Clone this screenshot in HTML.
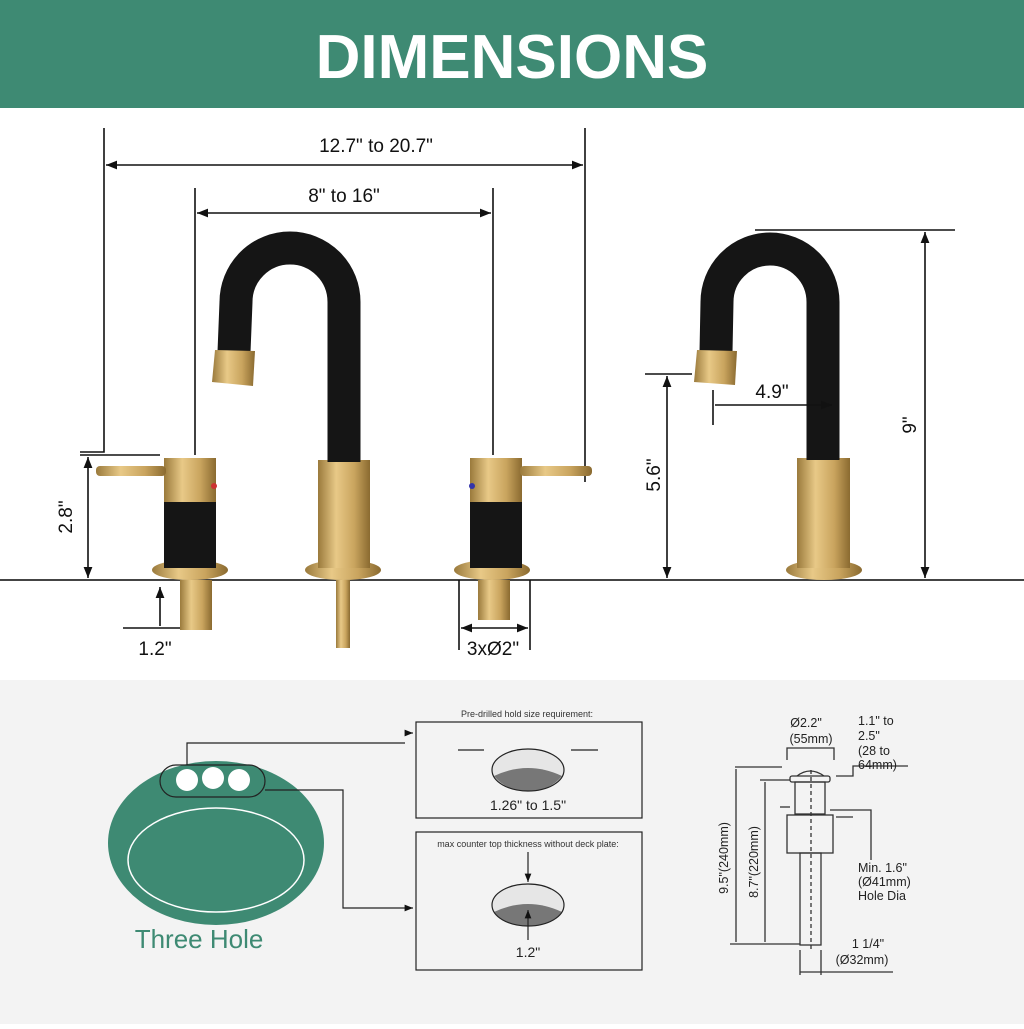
<!DOCTYPE html>
<html><head><meta charset="utf-8"><style>
body{margin:0;width:1024px;height:1024px;overflow:hidden;background:#fff;font-family:"Liberation Sans",sans-serif}
</style></head><body>
<svg width="1024" height="1024" viewBox="0 0 1024 1024" xmlns="http://www.w3.org/2000/svg" font-family="Liberation Sans, sans-serif">
<defs>
<linearGradient id="g" x1="0" x2="1"><stop offset="0" stop-color="#9a7a3c"/><stop offset=".35" stop-color="#e8c987"/><stop offset=".7" stop-color="#c9a45e"/><stop offset="1" stop-color="#8a6a30"/></linearGradient>
<marker id="a" viewBox="0 0 10 10" refX="10" refY="5" markerWidth="7" markerHeight="7" orient="auto-start-reverse"><path d="M0,1L10,5L0,9z" fill="#111"/></marker>
</defs>
<rect width="1024" height="108" fill="#3e8a73"/>
<text x="512" y="78" text-anchor="middle" font-size="62" font-weight="bold" fill="#fff">DIMENSIONS</text>
<rect y="680" width="1024" height="344" fill="#f3f3f3"/>
<line x1="0" y1="580" x2="1024" y2="580" stroke="#444" stroke-width="2"/>
<g stroke="#111" stroke-width="1.6" fill="none">
<polyline points="104,128 104,452 80,452"/>
<line x1="585" y1="128" x2="585" y2="482"/>
<line x1="106" y1="165" x2="583" y2="165" marker-start="url(#a)" marker-end="url(#a)"/>
<line x1="195" y1="188" x2="195" y2="455"/>
<line x1="493" y1="188" x2="493" y2="455"/>
<line x1="197" y1="213" x2="491" y2="213" marker-start="url(#a)" marker-end="url(#a)"/>
<line x1="80" y1="455" x2="160" y2="455"/>
<line x1="88" y1="457" x2="88" y2="578" marker-start="url(#a)" marker-end="url(#a)"/>
<line x1="160" y1="587" x2="160" y2="626" marker-start="url(#a)"/>
<line x1="123" y1="628" x2="190" y2="628"/>
<line x1="459" y1="580" x2="459" y2="650"/><line x1="530" y1="580" x2="530" y2="650"/>
<line x1="461" y1="628" x2="528" y2="628" marker-start="url(#a)" marker-end="url(#a)"/>
<line x1="755" y1="230" x2="955" y2="230"/>
<line x1="925" y1="232" x2="925" y2="578" marker-start="url(#a)" marker-end="url(#a)"/>
<line x1="645" y1="374" x2="692" y2="374"/>
<line x1="667" y1="376" x2="667" y2="578" marker-start="url(#a)" marker-end="url(#a)"/>
<line x1="713" y1="390" x2="713" y2="425"/>
</g>
<g font-size="19" fill="#111">
<text x="376" y="152" text-anchor="middle">12.7" to 20.7"</text>
<text x="344" y="202" text-anchor="middle">8" to 16"</text>
<text x="155" y="655" text-anchor="middle">1.2"</text>
<text x="493" y="655" text-anchor="middle">3xØ2"</text>
<text x="772" y="398" text-anchor="middle">4.9"</text>
<text transform="translate(72,517) rotate(-90)" text-anchor="middle">2.8"</text>
<text transform="translate(660,475) rotate(-90)" text-anchor="middle">5.6"</text>
<text transform="translate(916,425) rotate(-90)" text-anchor="middle">9"</text>
</g>
<!-- left handle -->
<rect x="180" y="580" width="32" height="50" fill="url(#g)"/>
<ellipse cx="190" cy="570" rx="38" ry="10" fill="url(#g)"/>
<rect x="164" y="500" width="52" height="68" fill="#151515"/>
<rect x="164" y="458" width="52" height="44" fill="url(#g)"/>
<rect x="96" y="466" width="70" height="10" rx="4" fill="url(#g)"/>
<circle cx="214" cy="486" r="3" fill="#c33"/>
<!-- right handle -->
<rect x="478" y="580" width="32" height="40" fill="url(#g)"/>
<ellipse cx="492" cy="570" rx="38" ry="10" fill="url(#g)"/>
<rect x="470" y="500" width="52" height="68" fill="#151515"/>
<rect x="470" y="458" width="52" height="44" fill="url(#g)"/>
<rect x="520" y="466" width="72" height="10" rx="4" fill="url(#g)"/>
<circle cx="472" cy="486" r="3" fill="#33a"/>
<!-- main spout -->
<rect x="336" y="580" width="14" height="68" fill="url(#g)"/>
<ellipse cx="343" cy="570" rx="38" ry="10" fill="url(#g)"/>
<rect x="318" y="460" width="52" height="108" fill="url(#g)"/>
<path d="M344,462 L344,302 A54,54 0 0 0 236,302 L234,352" stroke="#151515" stroke-width="33" fill="none"/>
<path d="M215,350 L255,351 L253,386 L212,382z" fill="url(#g)"/>
<!-- right faucet -->
<ellipse cx="824" cy="570" rx="38" ry="10" fill="url(#g)"/>
<rect x="797" y="458" width="53" height="110" fill="url(#g)"/>
<path d="M823,460 L823,302 A53,53 0 0 0 717,302 L716,352" stroke="#151515" stroke-width="33" fill="none"/>
<path d="M697,350 L737,351 L735,385 L694,382z" fill="url(#g)"/>
<line x1="715" y1="405" x2="832" y2="405" stroke="#111" stroke-width="1.6" marker-end="url(#a)"/>
<!-- bottom left sink -->
<ellipse cx="216" cy="843" rx="108" ry="82" fill="#3e8a73"/>
<ellipse cx="216" cy="860" rx="88" ry="52" fill="none" stroke="#fff" stroke-width="1.5"/>
<circle cx="187" cy="780" r="11" fill="#fff"/><circle cx="213" cy="778" r="11" fill="#fff"/><circle cx="239" cy="780" r="11" fill="#fff"/>
<rect x="160" y="765" width="105" height="32" rx="16" fill="none" stroke="#222" stroke-width="1.2"/>
<g stroke="#222" stroke-width="1.2" fill="none">
<polyline points="187,765 187,743 405,743"/>
<line x1="405" y1="733" x2="413" y2="733" marker-end="url(#a)"/>
<polyline points="265,790 343,790 343,908 413,908" marker-end="url(#a)"/>
<rect x="416" y="722" width="226" height="96"/>
<rect x="416" y="832" width="226" height="138"/>
<line x1="458" y1="750" x2="484" y2="750"/><line x1="571" y1="750" x2="598" y2="750"/>
</g>
<text x="199" y="948" text-anchor="middle" font-size="26" fill="#3e8a73">Three Hole</text>
<text x="527" y="717" text-anchor="middle" font-size="9" fill="#333">Pre-drilled hold size requirement:</text>
<ellipse cx="528" cy="770" rx="36" ry="21" fill="#e6e6e6"/>
<path d="M494,776 Q528,760 562,776 Q550,791 528,791 Q506,791 494,776z" fill="#777"/>
<ellipse cx="528" cy="770" rx="36" ry="21" fill="none" stroke="#222" stroke-width="1.2"/>
<text x="528" y="810" text-anchor="middle" font-size="14" fill="#222">1.26" to 1.5"</text>
<text x="528" y="847" text-anchor="middle" font-size="9" fill="#333">max counter top thickness without deck plate:</text>
<ellipse cx="528" cy="905" rx="36" ry="21" fill="#e6e6e6"/>
<path d="M494,912 Q528,896 562,912 Q550,926 528,926 Q506,926 494,912z" fill="#777"/>
<ellipse cx="528" cy="905" rx="36" ry="21" fill="none" stroke="#222" stroke-width="1.2"/>
<g stroke="#222" stroke-width="1.2"><line x1="528" y1="852" x2="528" y2="882" marker-end="url(#a)"/><line x1="528" y1="940" x2="528" y2="910" marker-end="url(#a)"/></g>
<text x="528" y="957" text-anchor="middle" font-size="14" fill="#222">1.2"</text>
<!-- drain -->
<g stroke="#333" stroke-width="1.3" fill="none">
<polyline points="787,760 787,748 834,748 834,760"/>
<line x1="735" y1="767" x2="782" y2="767"/><line x1="736" y1="769" x2="736" y2="942"/><line x1="730" y1="944" x2="800" y2="944"/>
<line x1="760" y1="780" x2="790" y2="780"/><line x1="765" y1="782" x2="765" y2="942"/>
<rect x="790" y="776" width="40" height="6" rx="2"/>
<path d="M797,776 Q810,766 824,776"/>
<rect x="795" y="782" width="30" height="32"/>
<rect x="787" y="815" width="46" height="38"/>
<rect x="800" y="853" width="21" height="92"/>
<line x1="811" y1="770" x2="811" y2="950" stroke-dasharray="4,3"/>
<polyline points="830,810 871,810 871,860"/>
<line x1="780" y1="807" x2="790" y2="807"/>
<polyline points="836,776 853,776 853,766 908,766"/>
<line x1="836" y1="817" x2="853" y2="817"/>
<line x1="800" y1="950" x2="800" y2="975"/><line x1="821" y1="950" x2="821" y2="975"/>
<line x1="800" y1="972" x2="893" y2="972"/>
</g>
<g font-size="12.5" fill="#222">
<text x="806" y="727" text-anchor="middle">Ø2.2"</text>
<text x="811" y="743" text-anchor="middle">(55mm)</text>
<text x="858" y="725">1.1" to</text><text x="858" y="740">2.5"</text><text x="858" y="755">(28 to</text><text x="858" y="769">64mm)</text>
<text x="858" y="872">Min. 1.6"</text><text x="858" y="886">(Ø41mm)</text><text x="858" y="900">Hole Dia</text>
<text x="868" y="948" text-anchor="middle">1 1/4"</text>
<text x="862" y="964" text-anchor="middle">(Ø32mm)</text>
<text transform="translate(728,858) rotate(-90)" text-anchor="middle">9.5"(240mm)</text>
<text transform="translate(758,862) rotate(-90)" text-anchor="middle">8.7"(220mm)</text>
</g>
</svg>
</body></html>
